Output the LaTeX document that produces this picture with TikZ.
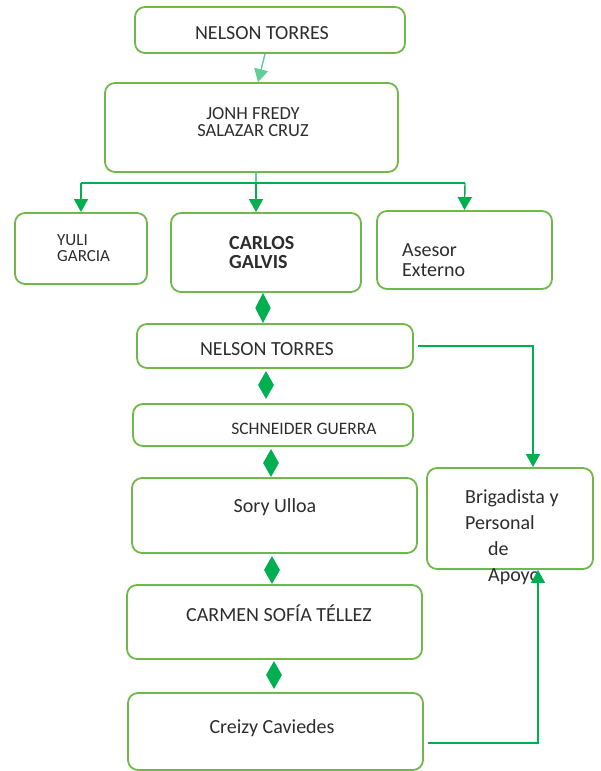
\documentclass[tikz,border=0pt]{standalone}
\usepackage{fontspec}
\setmainfont{Carlito}
\usetikzlibrary{arrows.meta,shapes.geometric}
\definecolor{boxgreen}{RGB}{112,184,72}
\definecolor{linegreen}{RGB}{0,176,80}
\definecolor{palegreen}{RGB}{96,206,150}
\definecolor{txtgray}{RGB}{45,45,45}
\newcommand{\setfs}[2]{\fontsize{#1}{#2}\selectfont}
\tikzset{
  box/.style={draw=boxgreen, line width=1.8pt, rounded corners=10pt, inner sep=0pt},
  txt/.style={text=txtgray, inner sep=0pt},
  conn/.style={draw=linegreen, line width=1.4pt},
  arr/.style={conn, -{Triangle[length=13pt,width=14pt]}},
  dblarr/.style={conn, {Triangle[length=15pt,width=15pt]}-{Triangle[length=15pt,width=15pt]}},
  gem/.style={diamond, fill=linegreen, inner sep=0pt, minimum width=16pt, minimum height=28pt},
}
\begin{document}
\begin{tikzpicture}[x=1pt, y=-1pt]
  \useasboundingbox (0,0) rectangle (601,771);
  % boxes
  \node[box, minimum width=270pt, minimum height=46pt] (nelson) at (270,30) {};
  \node[box, minimum width=293pt, minimum height=89pt] (jonh) at (251.5,127.5) {};
  \node[box, minimum width=132pt, minimum height=71pt] (yuli) at (81,248.5) {};
  \node[box, minimum width=190pt, minimum height=79pt] (carlos) at (266,252.5) {};
  \node[box, minimum width=175pt, minimum height=78pt] (asesor) at (464.5,250) {};
  \node[box, minimum width=276pt, minimum height=44pt] (nelsonb) at (275,346) {};
  \node[box, minimum width=280pt, minimum height=42pt] (schneider) at (273,425) {};
  \node[box, minimum width=285pt, minimum height=75pt] (sory) at (274.5,515.5) {};
  \node[box, minimum width=295pt, minimum height=74pt] (carmen) at (274.5,622) {};
  \node[box, minimum width=295pt, minimum height=77pt] (creizy) at (275.5,731.5) {};
  \node[box, minimum width=166pt, minimum height=101pt] (brig) at (510,518.5) {};
  % texts
  \node[txt, anchor=base, font=\setfs{20}{24}] at (262,39.5) {NELSON TORRES};
  \node[txt, anchor=north, align=center, font=\setfs{18.5}{17}] at (253,107) {JONH FREDY\\SALAZAR CRUZ};
  \node[txt, anchor=north west, align=left, font=\setfs{17}{16}] at (57,234.5) {YULI\\GARCIA};
  \node[txt, anchor=north west, align=left, font=\setfs{20}{19}\bfseries] at (229,236.5) {CARLOS\\GALVIS};
  \node[txt, anchor=north west, align=left, font=\setfs{20}{20}] at (402,243) {Asesor\\Externo};
  \node[txt, anchor=base, font=\setfs{20}{24}] at (267,355) {NELSON TORRES};
  \node[txt, anchor=base, font=\setfs{17.5}{20}] at (304,434) {SCHNEIDER GUERRA};
  \node[txt, anchor=base, font=\setfs{20}{24}] at (275,512) {Sory Ulloa};
  \node[txt, anchor=base, font=\setfs{20}{24}] at (279,621) {CARMEN SOFÍA TÉLLEZ};
  \node[txt, anchor=base, font=\setfs{20}{24}] at (272,733) {Creizy Caviedes};
  \node[txt, anchor=north west, align=left, font=\setfs{20}{26}] at (465,489) {Brigadista y\\Personal\\\hspace*{23pt}de\\\hspace*{23pt}Apoyo};
  % diamonds
  \node[gem] (d1) at (266,385) {};
  \node[gem] (d2) at (271,463) {};
  \node[gem] (d3) at (272,570) {};
  \node[gem] (d4) at (274,675) {};
  % connectors
  \coordinate (barL) at (81,183);
  \coordinate (barR) at (465,183);
  \draw[arr, draw=palegreen] ([xshift=-5pt]nelson.south) -- ([xshift=6.5pt]jonh.north);
  \draw[conn, draw=palegreen] ([xshift=4.5pt]jonh.south) -- ([xshift=4.5pt]jonh.south |- barL);
  \draw[conn] (barL) -- (barR);
  \draw[arr] (barL) -- (yuli.north);
  \draw[arr] ([xshift=-10pt]carlos.north |- barL) -- ([xshift=-10pt]carlos.north);
  \draw[arr] (barR) -- (asesor.north);
  \draw[dblarr] ([xshift=-3pt]carlos.south) -- ([xshift=-12pt]nelsonb.north);
  \draw[arr] ([xshift=4pt]nelsonb.east) -| ([xshift=23pt]brig.north);
  \draw[arr] ([xshift=4pt,yshift=-11.5pt]creizy.east) -| ([xshift=28pt]brig.south);
\end{tikzpicture}
\end{document}
